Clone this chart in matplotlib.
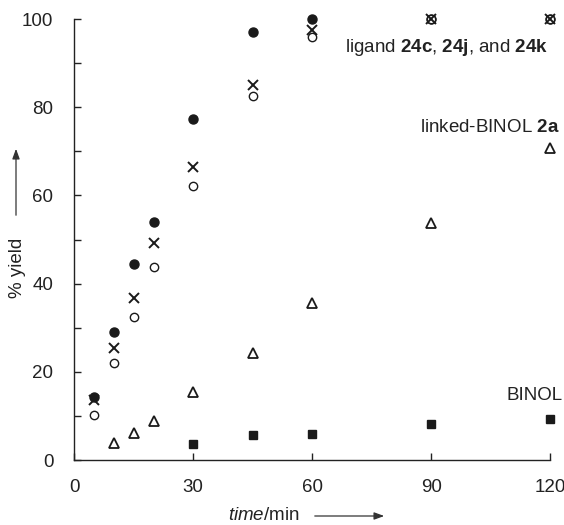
import matplotlib
matplotlib.use("Agg")
import matplotlib.pyplot as plt

plt.rcParams['font.family'] = ['Liberation Sans', 'DejaVu Sans']
plt.rcParams['mathtext.fontset'] = 'custom'
plt.rcParams['mathtext.bf'] = 'Liberation Sans:bold'
plt.rcParams['mathtext.rm'] = 'Liberation Sans'
plt.rcParams['mathtext.it'] = 'Liberation Sans:italic'

time_filled = [5, 10, 15, 20, 30, 45, 60, 90, 120]
yield_filled = [14.3, 29.0, 44.4, 54.0, 77.3, 97.0, 100, 100, 100]

time_cross = [5, 10, 15, 20, 30, 45, 60, 90, 120]
yield_cross = [13.6, 25.5, 36.8, 49.2, 66.5, 85.0, 97.6, 100, 100]

time_open = [5, 10, 15, 20, 30, 45, 60, 90, 120]
yield_open = [10.2, 22.1, 32.4, 43.7, 62.2, 82.5, 96.0, 100, 100]

time_tri = [10, 15, 20, 30, 45, 60, 90, 120]
yield_tri = [3.9, 6.2, 8.8, 15.5, 24.2, 35.5, 53.7, 70.8]

time_sq = [30, 45, 60, 90, 120]
yield_sq = [3.6, 5.7, 6.0, 8.1, 9.2]

x_ticks = [0, 30, 60, 90, 120]
y_ticks = [0, 20, 40, 60, 80, 100]

fig = plt.figure(figsize=(5.64, 5.25), dpi=100)
ax = fig.add_axes([0.1317, 0.1238, 0.8435, 0.84])

ax.plot(time_filled, yield_filled, 'o', color='#1a1a1a', ms=6.5, clip_on=False, zorder=3)
ax.plot(time_open, yield_open, 'o', mfc='white', mec='#1a1a1a', mew=1.0, ms=6, clip_on=False, zorder=4)
ax.plot(time_cross, yield_cross, 'x', color='#1a1a1a', mew=1.4, ms=7.5, clip_on=False, zorder=5)
ax.plot(time_tri, yield_tri, '^', mfc='white', mec='#1a1a1a', mew=1.3, ms=6.5, clip_on=False, zorder=3)
ax.plot(time_sq, yield_sq, 's', color='#1a1a1a', ms=6, clip_on=False, zorder=3)

ax.set_xlim(0, 120)
ax.set_ylim(0, 100)
for s in ['top', 'right']:
    ax.spines[s].set_visible(False)
for s in ['left', 'bottom']:
    ax.spines[s].set_color('#222222')
    ax.spines[s].set_linewidth(1.0)

ax.set_xticks(x_ticks)
ax.set_yticks(y_ticks)
ax.set_yticks(range(0, 101, 10), minor=True)
ax.tick_params(axis='both', which='major', direction='in', length=5, width=1.0,
               labelsize=13.5, colors='#222222')
ax.tick_params(axis='y', which='minor', direction='in', length=5, width=1.0, colors='#222222')
ax.tick_params(axis='y', which='major', pad=15)
ax.tick_params(axis='x', which='major', pad=14)

ax.text(119.5, 93.6, r'ligand $\mathbf{24c}$, $\mathbf{24j}$, and $\mathbf{24k}$',
        ha='right', va='center', fontsize=13.5, color='#222222')
ax.text(122.5, 75.3, r'linked-BINOL $\mathbf{2a}$', ha='right', va='center',
        fontsize=13.5, color='#222222')
ax.text(123.2, 14.7, 'BINOL', ha='right', va='center', fontsize=13.5, color='#222222')

# axis labels with arrows (figure coordinates)
fig.text(300 / 564, 1 - 515 / 525, r'$\it{time}$/min', ha='right', va='center',
         fontsize=13.5, color='#222222')
fig.text(17 / 564, 1 - 268 / 525, '% yield', ha='center', va='center', rotation=90,
         fontsize=13.5, color='#222222')
fig.patches.append(matplotlib.patches.FancyArrowPatch(
    (312 / 564, 1 - 516 / 525), (387 / 564, 1 - 516 / 525), transform=fig.transFigure,
    arrowstyle='-|>,head_length=6,head_width=2.2', color='#333333', lw=0.9, mutation_scale=1))
fig.patches.append(matplotlib.patches.FancyArrowPatch(
    (16 / 564, 1 - 218 / 525), (16 / 564, 1 - 146 / 525), transform=fig.transFigure,
    arrowstyle='-|>,head_length=6,head_width=2.2', color='#333333', lw=0.9, mutation_scale=1))

fig.savefig('out.png', dpi=100)
